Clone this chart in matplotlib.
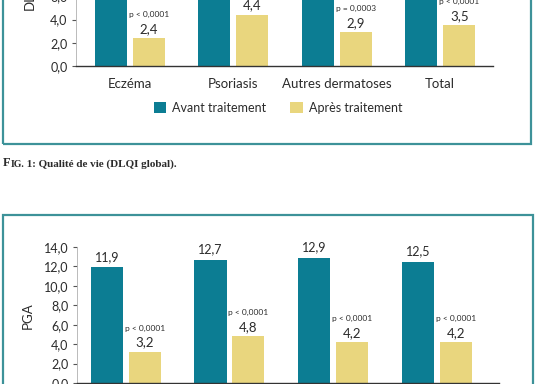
import matplotlib
matplotlib.use("Agg")
import matplotlib.pyplot as plt
from matplotlib.patches import Rectangle, Patch
import numpy as np

plt.rcParams['font.family'] = ['Lato', 'DejaVu Sans']

categories = ['Eczéma', 'Psoriasis', 'Autres dermatoses', 'Total']
dlqi_avant = [12.0, 11.5, 10.8, 11.6]   # tops not visible in the reference (estimated)
dlqi_apres = [2.4, 4.4, 2.9, 3.5]
dlqi_p = ['p < 0,0001', 'p < 0,0001', 'p = 0,0003', 'p < 0,0001']
pga_avant = [11.9, 12.7, 12.9, 12.5]
pga_apres = [3.2, 4.8, 4.2, 4.2]
pga_p = ['p < 0,0001', 'p < 0,0001', 'p < 0,0001', 'p < 0,0001']
yticks = [0, 2, 4, 6, 8, 10, 12, 14]
ytick_labels = ['0,0', '2,0', '4,0', '6,0', '8,0', '10,0', '12,0', '14,0']
legend_labels = ['Avant traitement', 'Après traitement']
caption = 'Qualité de vie (DLQI global).'

TEAL = '#0c7d93'
YELLOW = '#e9d67e'
FRAME = '#3d9299'
TXT = '#2b2b2b'

W, H = 538, 384
fig = plt.figure(figsize=(W / 100, H / 100), dpi=100)
fig.patch.set_facecolor('white')

def fx(px):
    return px / W

def fy(py):
    return 1 - py / H

def fmt(v):
    return f'{v:.1f}'.replace('.', ',')

def style(ax):
    for s in ['top', 'right']:
        ax.spines[s].set_visible(False)
    ax.spines['left'].set_color('#b0b0b0')
    ax.spines['left'].set_linewidth(0.6)
    ax.spines['bottom'].set_color('#333333')
    ax.spines['bottom'].set_linewidth(1.0)
    ax.set_yticks(yticks)
    ax.set_yticklabels(ytick_labels)
    ax.tick_params(axis='y', direction='out', length=3, width=0.8, color='#555555',
                   labelsize=9, labelcolor=TXT, pad=3)
    ax.tick_params(axis='x', length=0, labelsize=9.5, labelcolor=TXT, pad=9)
    ax.set_facecolor('none')

def draw(ax, avant, apres, pvals, off, width, label_avant=True):
    x = np.arange(len(categories))
    ax.bar(x - off, avant, width, color=TEAL)
    ax.bar(x + off, apres, width, color=YELLOW)
    if label_avant:
        for xi, v in zip(x - off, avant):
            ax.annotate(fmt(v), (xi, v), xytext=(0, 3), textcoords='offset points',
                        ha='center', va='bottom', fontsize=9, color=TXT)
    for xi, v, p in zip(x + off, apres, pvals):
        ax.annotate(fmt(v), (xi, v), xytext=(0, 2.5), textcoords='offset points',
                    ha='center', va='bottom', fontsize=9.5, color=TXT)
        ax.annotate(p, (xi, v), xytext=(0, 14.5), textcoords='offset points',
                    ha='center', va='bottom', fontsize=6, color=TXT)
    ax.set_xticks(x)
    ax.set_xticklabels(categories)

# ---- top chart (DLQI), only its lower part visible ----
top_y0, top_ppu = 66, 11.6
ax1 = fig.add_axes([fx(76), fy(top_y0), fx(493 - 76), 14 * top_ppu / H])
style(ax1)
draw(ax1, dlqi_avant, dlqi_apres, dlqi_p, 0.185, 0.31, label_avant=False)
ax1.set_xlim(-0.52, 3.51)
ax1.set_ylim(0, 14)
fig.text(fx(30), fy(10), 'DLQI', rotation=90, ha='center', va='bottom',
         fontsize=9.5, color=TXT)

handles = [Patch(facecolor=TEAL), Patch(facecolor=YELLOW)]
fig.legend(handles, legend_labels, loc='center', bbox_to_anchor=(fx(278), fy(108)),
           ncol=2, frameon=False, fontsize=9, handlelength=1.0, handleheight=1.0,
           handletextpad=0.5, columnspacing=1.9, labelcolor=TXT)

fig.add_artist(Rectangle((fx(3), fy(144)), fx(531 - 3), 1.0, transform=fig.transFigure,
                         fill=False, edgecolor=FRAME, linewidth=1.6))

# caption with small caps "FIG."
ax2 = fig.add_axes([fx(77), fy(383), fx(499 - 77), 14 * 9.71 / H])
t1 = ax2.annotate('F', xy=(fx(3), fy(166)), xycoords='figure fraction', ha='left',
                  va='baseline', fontsize=9, fontweight='bold', family='Liberation Serif',
                  color=TXT, annotation_clip=False)
t2 = ax2.annotate('IG.', xy=(1, 0), xycoords=t1, ha='left', va='bottom', fontsize=7,
                  fontweight='bold', family='Liberation Serif', color=TXT,
                  annotation_clip=False)
ax2.annotate(' 1: ' + caption, xy=(1, 0), xycoords=t2, ha='left', va='bottom',
             fontsize=8, fontweight='bold', family='Liberation Serif', color=TXT,
             annotation_clip=False)

# ---- bottom chart (PGA), only its upper part visible ----
fig.add_artist(Rectangle((fx(3), fy(215) - 1.0), fx(533 - 3), 1.0, transform=fig.transFigure,
                         fill=False, edgecolor=FRAME, linewidth=1.6))
style(ax2)
draw(ax2, pga_avant, pga_apres, pga_p, 0.183, 0.31)
ax2.set_xlim(-0.47, 3.6)
ax2.set_ylim(0, 14)
fig.text(fx(28), fy(316), 'PGA', rotation=90, ha='center', va='center',
         fontsize=9.5, color=TXT)

fig.savefig('out.png', dpi=100, facecolor='white')
